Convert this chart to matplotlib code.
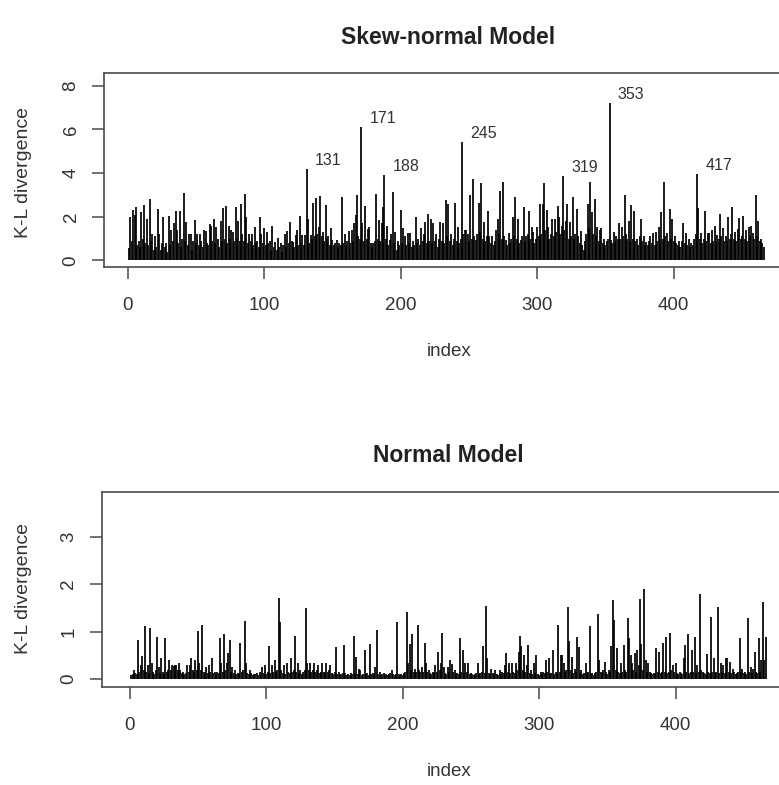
import matplotlib
matplotlib.use('Agg')
import matplotlib.pyplot as plt
import numpy as np

# ---------------- data ----------------
kl_skew = [
    0.55, 1.97, 0.9, 2.3, 2.1, 2.45, 0.7, 0.9, 0.6, 2.2, 1.0, 2.55, 0.8, 1.9, 0.7, 2.8, 0.9, 1.2, 0.5, 1.1,
    0.6, 2.35, 1.2, 0.5, 0.8, 2.0, 0.6, 0.8, 0.4, 2.05, 0.7, 1.4, 0.9, 1.7, 2.25, 1.4, 0.8, 2.25, 0.6, 1.0,
    3.1, 0.9, 1.75, 0.7, 1.2, 1.2, 0.5, 0.9, 1.85, 0.8, 1.2, 0.7, 1.2, 0.9, 0.6, 1.4, 1.35, 0.8, 0.7, 1.65,
    1.6, 0.9, 1.9, 0.8, 1.55, 1.0, 0.6, 1.8, 0.9, 2.4, 1.0, 2.5, 0.8, 1.6, 1.0, 1.4, 1.3, 0.9, 2.45, 1.0,
    1.8, 0.9, 2.6, 1.2, 0.9, 3.05, 2.0, 0.8, 1.2, 0.9, 1.2, 0.7, 1.55, 0.8, 0.9, 0.6, 2.0, 1.2, 0.8, 1.5,
    0.7, 1.3, 0.8, 0.9, 0.5, 1.6, 0.6, 0.85, 0.5, 1.05, 0.6, 0.8, 0.4, 0.7, 1.2, 0.6, 1.35, 0.8, 1.75, 0.9,
    0.85, 0.6, 1.15, 1.4, 0.7, 2.05, 0.8, 1.15, 0.7, 1.15, 4.19, 1.9, 0.8, 1.15, 1.0, 2.65, 1.1, 2.85, 1.2, 1.55,
    2.95, 1.1, 1.3, 0.9, 2.55, 1.0, 1.1, 0.7, 1.5, 0.95, 0.7, 0.8, 0.95, 0.6, 0.8, 0.7, 2.9, 0.8, 1.2, 0.7,
    0.9, 1.35, 0.8, 1.4, 0.9, 1.7, 2.1, 3.0, 1.1, 1.0, 6.13, 1.7, 0.9, 2.5, 1.0, 1.45, 1.55, 0.8, 0.6, 0.8,
    0.9, 3.05, 1.0, 1.85, 0.9, 1.7, 2.45, 3.9, 1.0, 1.6, 0.7, 0.95, 1.2, 3.15, 0.8, 1.3, 0.5, 0.9, 0.7, 2.3,
    0.8, 1.5, 1.1, 0.7, 1.25, 0.8, 1.25, 0.6, 0.9, 0.7, 2.0, 0.8, 1.0, 0.7, 1.5, 0.9, 1.2, 1.75, 0.8, 2.15,
    0.9, 1.9, 0.8, 1.7, 0.9, 1.2, 0.6, 1.0, 1.75, 0.9, 1.7, 0.8, 2.75, 1.1, 2.6, 0.9, 1.2, 0.7, 1.0, 2.65,
    0.9, 1.55, 0.8, 1.0, 5.43, 1.2, 1.4, 1.4, 1.2, 0.9, 3.0, 1.0, 3.75, 1.1, 0.95, 1.2, 2.65, 1.3, 3.55, 1.0,
    1.75, 0.9, 1.1, 2.25, 1.1, 0.8, 1.1, 0.7, 0.9, 1.4, 1.9, 1.2, 3.2, 1.0, 3.6, 1.1, 0.95, 0.7, 1.25, 0.8,
    1.0, 2.0, 1.1, 2.9, 1.0, 1.9, 0.8, 0.95, 1.1, 2.45, 0.9, 1.1, 1.2, 2.25, 1.0, 1.55, 1.3, 0.8, 1.0, 1.55,
    1.1, 2.6, 1.2, 2.6, 3.55, 1.4, 2.3, 1.55, 1.0, 1.2, 1.9, 1.1, 1.9, 1.3, 2.5, 2.0, 1.2, 1.6, 3.88, 1.4,
    1.8, 2.6, 1.0, 1.75, 1.1, 2.9, 1.0, 1.2, 2.35, 1.1, 0.8, 1.35, 0.7, 0.5, 0.9, 1.2, 2.6, 1.5, 3.6, 2.2,
    1.2, 2.8, 1.1, 1.55, 0.9, 1.4, 1.5, 0.8, 1.0, 0.7, 0.9, 1.0, 7.2, 0.95, 0.8, 1.3, 0.9, 1.1, 1.0, 1.7,
    1.0, 1.55, 1.1, 3.0, 1.2, 1.0, 1.8, 0.9, 2.55, 1.0, 2.25, 0.9, 1.0, 0.7, 1.1, 1.9, 0.9, 1.1, 0.7, 0.85,
    0.7, 0.9, 1.1, 0.8, 1.25, 0.7, 1.3, 0.9, 1.55, 1.0, 2.2, 1.0, 3.6, 1.1, 1.25, 0.9, 2.35, 1.0, 1.9, 0.9,
    1.1, 0.8, 0.7, 0.9, 0.6, 0.9, 1.7, 0.8, 1.25, 0.7, 1.0, 0.6, 0.8, 0.7, 1.0, 1.2, 3.96, 2.4, 1.0, 1.25,
    0.8, 1.0, 2.25, 0.9, 1.25, 1.25, 0.8, 1.4, 0.9, 1.6, 0.9, 1.15, 1.0, 2.15, 1.1, 1.5, 0.9, 1.1, 0.9, 2.0,
    1.0, 1.2, 2.45, 1.0, 1.3, 0.9, 1.45, 1.95, 1.0, 1.1, 2.05, 1.0, 1.4, 0.9, 1.55, 1.1, 1.6, 1.25, 1.0, 3.0,
    1.1, 1.8, 0.9, 1.0, 0.8, 0.6,
]

kl_normal = [
    0.08, 0.1, 0.19, 0.12, 0.1, 0.82, 0.15, 0.3, 0.49, 0.2, 1.12, 0.15, 0.3, 0.12, 1.07, 0.35, 0.15, 0.1, 0.2, 0.88,
    0.25, 0.12, 0.44, 0.15, 0.1, 0.86, 0.15, 0.2, 0.4, 0.2, 0.3, 0.28, 0.3, 0.3, 0.2, 0.35, 0.2, 0.12, 0.15, 0.1,
    0.12, 0.3, 0.15, 0.3, 0.44, 0.2, 0.15, 0.4, 0.2, 1.01, 0.35, 0.2, 1.13, 0.15, 0.1, 0.25, 0.12, 0.3, 0.15, 0.44,
    0.12, 0.15, 0.1, 0.15, 0.12, 0.86, 0.35, 0.15, 0.96, 0.2, 0.35, 0.56, 0.82, 0.15, 0.25, 0.12, 0.2, 0.1, 0.12, 0.1,
    0.77, 0.15, 0.2, 1.22, 0.35, 0.12, 0.1, 0.2, 0.12, 0.08, 0.1, 0.1, 0.12, 0.08, 0.15, 0.1, 0.25, 0.12, 0.3, 0.1,
    0.15, 0.7, 0.12, 0.3, 0.15, 0.4, 0.15, 0.2, 1.7, 1.21, 0.2, 0.12, 0.3, 0.1, 0.33, 0.15, 0.12, 0.45, 0.15, 0.2,
    0.91, 0.15, 0.35, 0.12, 0.2, 0.1, 0.15, 0.2, 1.49, 0.35, 0.2, 0.35, 0.15, 0.2, 0.35, 0.15, 0.2, 0.3, 0.12, 0.15,
    0.33, 0.15, 0.12, 0.33, 0.15, 0.2, 0.3, 0.12, 0.1, 0.15, 0.67, 0.1, 0.15, 0.08, 0.1, 0.12, 0.72, 0.12, 0.08, 0.1,
    0.08, 0.12, 0.1, 0.91, 0.12, 0.47, 0.1, 0.22, 0.19, 0.08, 0.1, 0.61, 0.1, 0.12, 0.08, 0.74, 0.1, 0.12, 0.1, 0.26,
    1.03, 0.1, 0.15, 0.08, 0.1, 0.12, 0.08, 0.1, 0.08, 0.1, 0.12, 0.19, 0.1, 0.08, 0.1, 1.21, 0.1, 0.08, 0.1, 0.08,
    0.12, 0.15, 1.42, 0.35, 0.75, 0.2, 0.95, 0.15, 0.22, 0.15, 1.15, 0.2, 0.15, 0.26, 0.15, 0.77, 0.33, 0.15, 0.19, 0.12,
    0.1, 0.15, 0.12, 0.3, 0.15, 0.58, 0.2, 0.33, 0.98, 0.25, 0.12, 0.1, 0.26, 0.15, 0.4, 0.32, 0.15, 0.19, 0.1, 0.12,
    0.1, 0.86, 0.15, 0.61, 0.12, 0.35, 0.15, 0.35, 0.1, 0.12, 0.1, 0.08, 0.1, 0.12, 0.35, 0.1, 0.12, 0.15, 0.7, 0.12,
    1.54, 0.44, 0.12, 0.1, 0.22, 0.12, 0.1, 0.19, 0.1, 0.08, 0.19, 0.1, 0.15, 0.12, 0.3, 0.56, 0.15, 0.35, 0.12, 0.35,
    0.15, 0.12, 0.35, 0.2, 0.58, 0.91, 0.7, 0.2, 0.5, 0.15, 0.3, 0.72, 0.12, 0.19, 0.1, 0.35, 0.12, 0.5, 0.1, 0.08,
    0.15, 0.1, 0.15, 0.12, 0.4, 0.15, 0.44, 0.1, 0.12, 0.61, 0.1, 0.15, 0.12, 1.14, 0.15, 0.5, 0.5, 0.35, 0.15, 0.2,
    1.51, 0.8, 0.2, 0.47, 0.12, 0.22, 0.15, 0.89, 0.68, 0.12, 0.19, 0.1, 0.12, 0.33, 0.12, 0.15, 1.12, 0.1, 0.12, 0.08,
    0.12, 0.15, 1.37, 0.4, 0.15, 0.12, 0.2, 0.36, 0.15, 0.1, 0.19, 0.15, 0.7, 1.67, 1.25, 0.2, 0.65, 0.15, 0.12, 0.35,
    0.15, 0.72, 0.2, 0.15, 1.29, 0.86, 0.5, 0.33, 0.2, 0.54, 0.15, 0.61, 0.3, 1.69, 0.75, 0.2, 1.9, 0.4, 0.15, 0.33,
    0.15, 0.12, 0.1, 0.12, 0.1, 0.65, 0.15, 0.58, 0.12, 0.15, 0.77, 0.15, 0.88, 0.12, 0.15, 0.98, 0.2, 0.3, 0.15, 0.33,
    0.12, 0.1, 0.15, 0.12, 0.1, 0.45, 0.72, 0.15, 0.95, 0.12, 0.15, 0.61, 0.15, 0.88, 0.12, 0.3, 0.15, 1.79, 0.2, 0.15,
    0.12, 0.1, 0.53, 0.15, 0.12, 1.3, 0.15, 0.44, 0.12, 0.15, 1.53, 0.12, 0.33, 0.15, 0.3, 0.12, 0.44, 0.45, 0.15, 0.36,
    0.12, 0.22, 0.15, 0.1, 0.12, 0.15, 0.86, 0.15, 0.22, 0.12, 0.15, 0.1, 1.29, 0.15, 0.26, 0.12, 0.22, 0.58, 0.15, 0.12,
    0.86, 0.15, 0.4, 1.63, 0.4, 0.89,
]

labeled_idx = [131, 171, 188, 245, 319, 353, 417]
xticks = [0, 100, 200, 300, 400]
yticks_skew = [0, 2, 4, 6, 8]
yticks_normal = [0, 1, 2, 3]
titles = ["Skew-normal Model", "Normal Model"]
xlab = "index"
ylab = "K-L divergence"

# ---------------- figure ----------------
plt.rcParams['font.family'] = ['Liberation Sans', 'DejaVu Sans']
W, H = 779, 785
fig = plt.figure(figsize=(W / 100, H / 100), dpi=100)
FRAME = '#4a4a4a'


def add_ax(l, t, r, b):
    return fig.add_axes([l / W, 1 - b / H, (r - l) / W, (b - t) / H])


def style(ax, yt):
    for s in ax.spines.values():
        s.set_color(FRAME)
        s.set_linewidth(1.2)
    ax.set_xticks(xticks)
    ax.set_yticks(yt)
    ax.tick_params(direction='out', length=8.6, width=1.1, color=FRAME,
                   labelsize=13.5, labelcolor='#333333')
    ax.tick_params(axis='x', pad=13)
    ax.tick_params(axis='y', pad=9)
    for lab in ax.get_yticklabels():
        lab.set_rotation(90)
        lab.set_va('center')


panels = [
    dict(vals=kl_skew, box=(104, 72.7, 789, 267), xlim=(-17.4, 484.5), ylim=(-0.3, 8.6),
         yt=yticks_skew, title=titles[0], ty=38, xly=352, yly=172),
    dict(vals=kl_normal, box=(101.7, 491.7, 790.8, 686.7), xlim=(-20.7, 484.5), ylim=(-0.16, 3.95),
         yt=yticks_normal, title=titles[1], ty=456, xly=771, yly=589),
]

for k, p in enumerate(panels):
    ax = add_ax(*p['box'])
    v = p['vals']
    idx = np.arange(1, len(v) + 1)
    ax.vlines(idx, 0, v, color='#000000', lw=1.25)
    ax.set_xlim(*p['xlim'])
    ax.set_ylim(*p['ylim'])
    style(ax, p['yt'])
    fig.text(448 / W, 1 - p['ty'] / H, p['title'], ha='center', va='center',
             fontsize=16.5, fontweight='bold', color='#222222')
    fig.text(449 / W, 1 - p['xly'] / H, xlab, ha='center', va='center',
             fontsize=13.5, color='#333333')
    fig.text(24 / W, 1 - p['yly'] / H, ylab, ha='center', va='center',
             rotation=90, fontsize=14, color='#333333')
    if k == 0:
        for i in labeled_idx:
            ax.annotate(str(i), (i, v[i - 1]), xytext=(6, 6), textcoords='offset points',
                        ha='left', va='center', fontsize=11.5, color='#333333')

fig.savefig('out.png', dpi=100, facecolor='white')
